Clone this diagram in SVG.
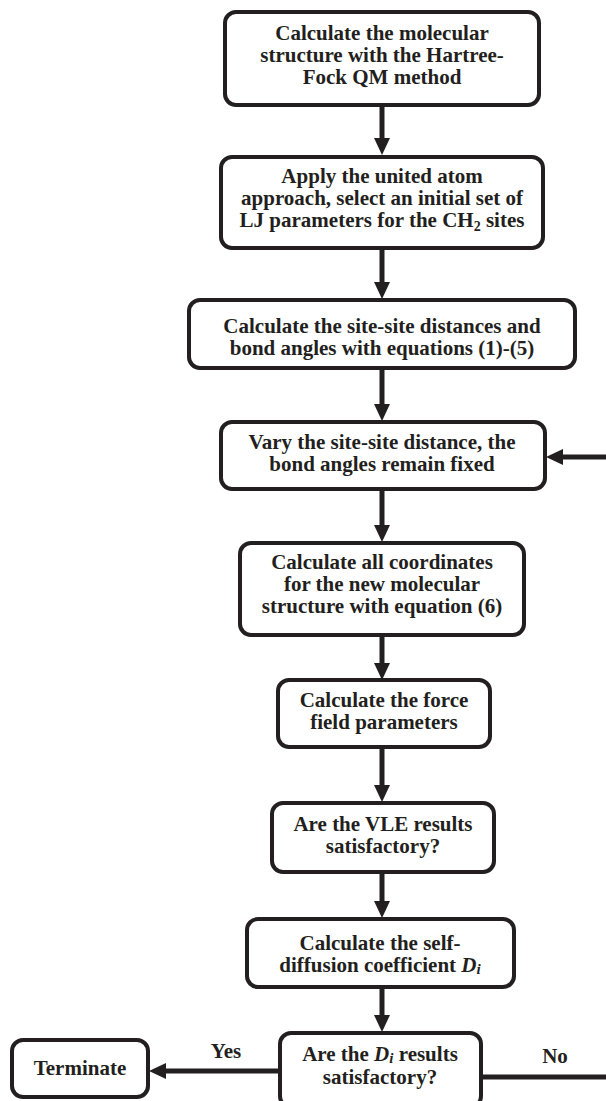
<svg xmlns="http://www.w3.org/2000/svg" width="606" height="1101" viewBox="0 0 606 1101">
<defs>
<style>
.box{fill:#ffffff;stroke:#231f20;stroke-width:4}
.t{font-family:"Liberation Serif","Times New Roman",serif;font-weight:bold;font-size:21px;fill:#231f20;text-anchor:middle}
.c{fill:none;stroke:#231f20;stroke-width:5;stroke-linecap:butt;stroke-linejoin:miter}
</style>
<marker id="ah" markerUnits="userSpaceOnUse" markerWidth="17" markerHeight="16" refX="0" refY="8" orient="auto" overflow="visible">
<path d="M0,0 L17,8 L0,16 z" fill="#231f20"/>
</marker>
</defs>
<rect width="606" height="1101" fill="#ffffff"/>
<g id="connectors">
<path class="c" d="M382,105 V138" marker-end="url(#ah)"/>
<path class="c" d="M382,248 V282" marker-end="url(#ah)"/>
<path class="c" d="M382,368 V404" marker-end="url(#ah)"/>
<path class="c" d="M382,489 V525" marker-end="url(#ah)"/>
<path class="c" d="M382,635 V663" marker-end="url(#ah)"/>
<path class="c" d="M382,747 V785" marker-end="url(#ah)"/>
<path class="c" d="M382,872 V901" marker-end="url(#ah)"/>
<path class="c" d="M382,987 V1015" marker-end="url(#ah)"/>
<path class="c" d="M280,1071 H166" marker-end="url(#ah)"/>
<path class="c" d="M481,1077 H610 V457 H563" marker-end="url(#ah)"/>
<text class="t" x="226" y="1058">Yes</text>
<text class="t" x="555" y="1063">No</text>
</g>
<g id="n1">
<rect class="box" x="225" y="12" width="314" height="93" rx="11"/>
<text class="t" x="382" y="40">Calculate the molecular</text>
<text class="t" x="382" y="62">structure with the Hartree-</text>
<text class="t" x="382" y="84">Fock QM method</text>
</g>
<g id="n2">
<rect class="box" x="221" y="157" width="322" height="91" rx="11"/>
<text class="t" x="382" y="183">Apply the united atom</text>
<text class="t" x="382" y="205">approach, select an initial set of</text>
<text class="t" x="382" y="227">LJ parameters for the CH<tspan font-size="14" dy="4">2</tspan><tspan dy="-4"> sites</tspan></text>
</g>
<g id="n3">
<rect class="box" x="189" y="300" width="386" height="68" rx="11"/>
<text class="t" x="382" y="333">Calculate the site-site distances and</text>
<text class="t" x="382" y="355">bond angles with equations (1)-(5)</text>
</g>
<g id="n4">
<rect class="box" x="221" y="422" width="324" height="67" rx="11"/>
<text class="t" x="382" y="449">Vary the site-site distance, the</text>
<text class="t" x="382" y="471">bond angles remain fixed</text>
</g>
<g id="n5">
<rect class="box" x="240" y="543" width="284" height="92" rx="11"/>
<text class="t" x="382" y="569">Calculate all coordinates</text>
<text class="t" x="382" y="591">for the new molecular</text>
<text class="t" x="382" y="613">structure with equation (6)</text>
</g>
<g id="n6">
<rect class="box" x="278" y="680" width="212" height="67" rx="11"/>
<text class="t" x="384" y="707">Calculate the force</text>
<text class="t" x="384" y="729">field parameters</text>
</g>
<g id="n7">
<rect class="box" x="272" y="803" width="222" height="69" rx="11"/>
<text class="t" x="383" y="831">Are the VLE results</text>
<text class="t" x="383" y="853">satisfactory?</text>
</g>
<g id="n8">
<rect class="box" x="247" y="919" width="267" height="68" rx="11"/>
<text class="t" x="380" y="950">Calculate the self-</text>
<text class="t" x="380" y="972">diffusion coefficient <tspan font-style="italic">D</tspan><tspan font-style="italic" font-size="15" dy="2">i</tspan></text>
</g>
<g id="n9">
<rect class="box" x="280" y="1033" width="201" height="74" rx="11"/>
<text class="t" x="380" y="1061">Are the <tspan font-style="italic">D</tspan><tspan font-style="italic" font-size="15" dy="2">i</tspan><tspan dy="-2"> results</tspan></text>
<text class="t" x="380" y="1084">satisfactory?</text>
</g>
<g id="n10">
<rect class="box" x="12" y="1040" width="136" height="57" rx="11"/>
<text class="t" x="80" y="1075">Terminate</text>
</g>
</svg>
